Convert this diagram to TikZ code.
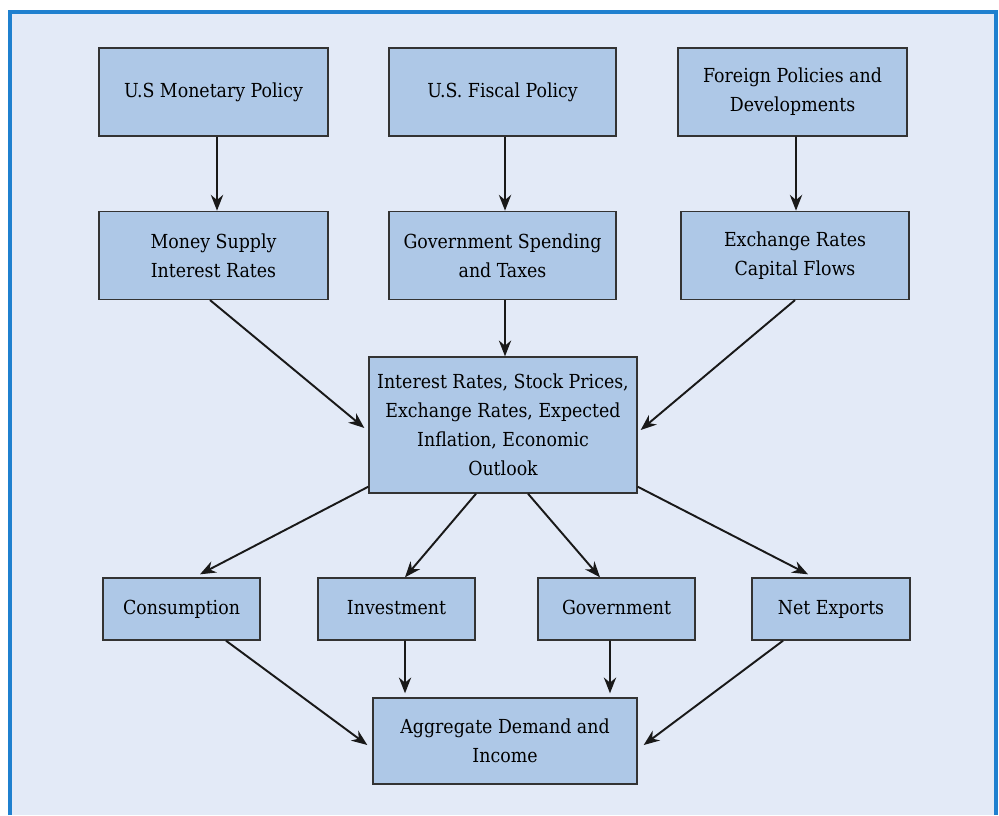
\documentclass[tikz,border=0pt]{standalone}
\usepackage{fontspec}
\setmainfont{DejaVu Serif Condensed}
\usetikzlibrary{arrows.meta, positioning}
\definecolor{panelblue}{HTML}{E3EAF7}
\definecolor{boxblue}{HTML}{AEC8E7}
\definecolor{rimblue}{HTML}{1F80CF}

\begin{document}
\begin{tikzpicture}[x=0.02cm, y=-0.02cm,
    box/.style={draw=black!80, fill=boxblue, line width=0.8pt, rectangle, align=center,
      minimum width=4.58cm, minimum height=1.76cm, font=\fontsize{11}{16.5}\selectfont, inner sep=2pt},
    small/.style={box, minimum width=3.14cm, minimum height=1.24cm, text height=1.6ex, text depth=0.45ex},
    link/.style={-{Stealth[length=9pt, width=7pt]}, line width=1.1pt, black!90}]
    \useasboundingbox (0,0) rectangle (999,815);
    \fill[panelblue] (10,12) rectangle (996,815);
    \draw[rimblue, line width=2pt] (10,815) -- (10,12) -- (996,12) -- (996,815);

    \node [box] (monetary) at (213.5,92) {U.S Monetary Policy};
    \node [box, minimum width=4.54cm] (fiscal) at (502.5,92) {U.S. Fiscal Policy};
    \node [box] (foreign) at (792.5,92) {Foreign Policies and\\ Developments};

    \node [box, below=1.48cm of monetary] (money) {Money Supply\\ Interest Rates};
    \node [box, minimum width=4.54cm, below=1.48cm of fiscal] (spending) {Government Spending\\ and Taxes};
    \node [box, minimum width=4.56cm, below=1.48cm of foreign, xshift=0.05cm] (exchange) {Exchange Rates\\ Capital Flows};

    \node [box, minimum width=5.36cm, minimum height=2.72cm] (outlook) at (503,425)
      {Interest Rates, Stock Prices,\\ Exchange Rates, Expected\\ Inflation, Economic\\ Outlook};

    \node [small] (consumption) at (181.5,609) {Consumption};
    \node [small] (investment) at (396.5,609) {Investment};
    \node [small] (government) at (616.5,609) {Government};
    \node [small, minimum width=3.16cm] (exports) at (831,609) {Net Exports};

    \node [box, minimum width=5.28cm, minimum height=1.72cm] (demand) at (505,741) {Aggregate Demand and\\ Income};

    \draw[link] ([xshift=0.07cm]monetary.south) -- ([xshift=0.07cm]money.north);
    \draw[link] ([xshift=0.05cm]fiscal.south) -- ([xshift=0.05cm]spending.north);
    \draw[link] ([xshift=0.07cm]foreign.south) -- ([xshift=0.02cm]exchange.north);

    \draw[link] ([xshift=-0.07cm]money.south) -- ([xshift=-0.08cm,yshift=-0.06cm]outlook.west);
    \draw[link] ([xshift=0.05cm]spending.south) -- ([xshift=0.04cm]outlook.north);
    \draw[link] (exchange.south) -- ([xshift=0.06cm,yshift=-0.1cm]outlook.east);

    \draw[link] ([yshift=0.14cm]outlook.south west) -- ([xshift=0.37cm,yshift=0.06cm]consumption.north);
    \draw[link] ([xshift=-0.54cm]outlook.south) -- ([xshift=0.17cm]investment.north);
    \draw[link] ([xshift=0.5cm]outlook.south) -- ([xshift=-0.33cm]government.north);
    \draw[link] ([yshift=0.14cm]outlook.south east) -- ([xshift=-0.46cm,yshift=0.06cm]exports.north);

    \draw[link] ([xshift=0.89cm]consumption.south) -- ([xshift=-0.1cm,yshift=-0.08cm]demand.west);
    \draw[link] ([xshift=0.17cm]investment.south) -- ([xshift=-2cm,yshift=0.08cm]demand.north);
    \draw[link] ([xshift=-0.13cm]government.south) -- ([xshift=2.1cm,yshift=0.08cm]demand.north);
    \draw[link] ([xshift=-0.96cm]exports.south) -- ([xshift=0.12cm,yshift=-0.08cm]demand.east);
\end{tikzpicture}
\end{document}
